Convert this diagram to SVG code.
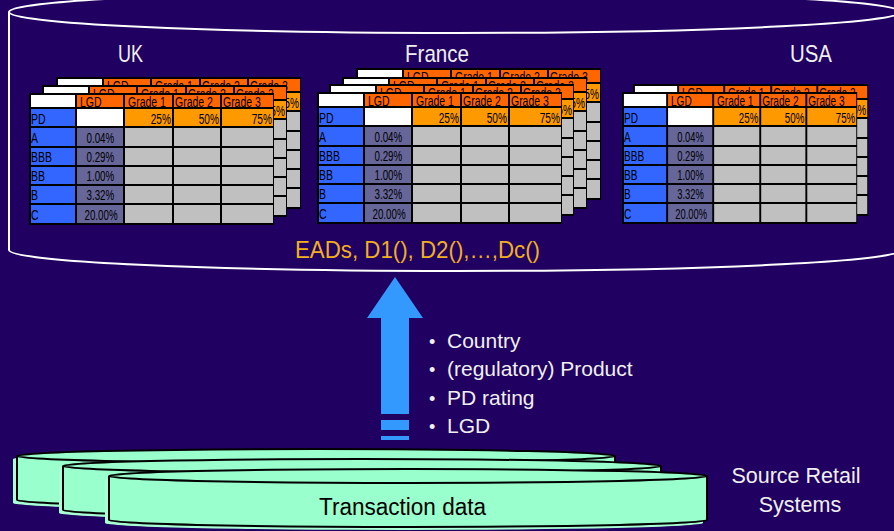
<svg xmlns="http://www.w3.org/2000/svg" width="894" height="531" viewBox="0 0 894 531">
<style>
.t{font-family:"Liberation Sans",Arial,sans-serif;font-size:15px;fill:#000}
.h{font-size:15px}
.v{font-size:14px}
.p{font-size:14.5px}
.m{text-anchor:middle}
.e{text-anchor:end}
.lbl{font-family:"Liberation Sans",Arial,sans-serif;fill:#f0f0f0}
.cyl{fill:#99ffcc;stroke:#000;stroke-width:2}
.sh{fill:#a8ffd4;stroke:none}
.bigc{fill:none;stroke:#fff;stroke-width:2}
</style>
<defs>
<g id="tbl">
 <rect width="245" height="132" fill="#000"/>
 <g fill="#fff"><rect x="2" y="2" width="44" height="12"/><rect x="48" y="16" width="46" height="17"/></g>
 <g fill="#ff6600"><rect x="48" y="2" width="46" height="12"/><rect x="96" y="2" width="47" height="12"/><rect x="145" y="2" width="46" height="12"/><rect x="193" y="2" width="51" height="12"/></g>
 <g fill="#ff9900"><rect x="96" y="16" width="47" height="17"/><rect x="145" y="16" width="46" height="17"/><rect x="193" y="16" width="51" height="17"/></g>
 <g fill="#3366ff"><rect x="2" y="16" width="44" height="17"/><rect x="2" y="35" width="44" height="18"/><rect x="2" y="55" width="44" height="17"/><rect x="2" y="74" width="44" height="17"/><rect x="2" y="93" width="44" height="17"/><rect x="2" y="112" width="44" height="18"/></g>
 <g fill="#666699"><rect x="48" y="35" width="46" height="18"/><rect x="48" y="55" width="46" height="17"/><rect x="48" y="74" width="46" height="17"/><rect x="48" y="93" width="46" height="17"/><rect x="48" y="112" width="46" height="18"/></g>
 <g fill="#c0c0c0">
  <rect x="96" y="35" width="47" height="18"/><rect x="145" y="35" width="46" height="18"/><rect x="193" y="35" width="51" height="18"/>
  <rect x="96" y="55" width="47" height="17"/><rect x="145" y="55" width="46" height="17"/><rect x="193" y="55" width="51" height="17"/>
  <rect x="96" y="74" width="47" height="17"/><rect x="145" y="74" width="46" height="17"/><rect x="193" y="74" width="51" height="17"/>
  <rect x="96" y="93" width="47" height="17"/><rect x="145" y="93" width="46" height="17"/><rect x="193" y="93" width="51" height="17"/>
  <rect x="96" y="112" width="47" height="18"/><rect x="145" y="112" width="46" height="18"/><rect x="193" y="112" width="51" height="18"/>
 </g>
 <g transform="scale(0.7 1)" class="t">
  <text class="h" x="72.9" y="13.5">LGD</text>
  <text class="h" x="141.4" y="13.5">Grade 1</text>
  <text class="h" x="208.6" y="13.5">Grade 2</text>
  <text class="h" x="277.1" y="13.5">Grade 3</text>
  <text x="2.9" y="31">PD</text>
  <text x="2.9" y="50.5">A</text>
  <text x="2.9" y="69.5">BBB</text>
  <text x="2.9" y="88.5">BB</text>
  <text x="2.9" y="107.5">B</text>
  <text x="2.9" y="127.5">C</text>
  <text class="e p" x="202.9" y="31">25%</text>
  <text class="e p" x="271.4" y="31">50%</text>
  <text class="e p" x="347.1" y="31">75%</text>
  <text class="m v" x="102" y="50">0.04%</text>
  <text class="m v" x="102" y="69">0.29%</text>
  <text class="m v" x="102" y="88">1.00%</text>
  <text class="m v" x="102" y="107">3.32%</text>
  <text class="m v" x="103" y="127">20.00%</text>
 </g>
</g>
<g id="disk">
 <path class="sh" transform="translate(-4 3)" d="M-299,0 L-299,44 A299,7 0 0 0 299,44 L299,0 A299,7 0 0 0 -299,0 Z"/>
 <path class="cyl" d="M-299,0 L-299,44 A299,7 0 0 0 299,44 L299,0"/>
 <ellipse class="cyl" cx="0" cy="0" rx="299" ry="7"/>
</g>
</defs>
<rect width="894" height="531" fill="#200060"/>

<g id="store">
 <ellipse class="bigc" cx="455" cy="12" rx="446" ry="21"/>
 <path class="bigc" d="M9,12 L9,250 A446,21 0 0 0 901,250 L901,12"/>
</g>

<g id="uk">
 <text class="lbl" x="118" y="62" font-size="24" textLength="25" lengthAdjust="spacingAndGlyphs">UK</text>
 <use href="#tbl" transform="translate(56 77)"/>
 <use href="#tbl" transform="translate(42 85)"/>
 <use href="#tbl" transform="translate(29 93)"/>
</g>
<g id="france">
 <text class="lbl" x="405" y="62" font-size="24" textLength="64" lengthAdjust="spacingAndGlyphs">France</text>
 <use href="#tbl" transform="translate(356 68)"/>
 <use href="#tbl" transform="translate(342 77)"/>
 <use href="#tbl" transform="translate(329 84)"/>
 <use href="#tbl" transform="translate(317 92)"/>
</g>
<g id="usa">
 <text class="lbl" x="790" y="62" font-size="24" textLength="42" lengthAdjust="spacingAndGlyphs">USA</text>
 <use href="#tbl" transform="translate(633 84) scale(0.96 1)"/>
 <use href="#tbl" transform="translate(622 92) scale(0.96 1)"/>
</g>
<text id="eads" x="295" y="258" font-family="'Liberation Sans',Arial,sans-serif" font-size="24" fill="#f0b020" textLength="245" lengthAdjust="spacingAndGlyphs">EADs, D1(), D2(),…,Dc()</text>

<g id="connectors">
 <polygon points="395,277 423,318 409,318 409,414 381,414 381,318 367,318" fill="#3399ff"/>
 <rect x="381" y="420" width="28" height="10" fill="#3399ff"/>
 <rect x="381" y="436" width="28" height="4" fill="#3399ff"/>
</g>

<g id="attrs" class="lbl" font-size="21">
 <text x="429" y="348" font-size="18">•</text><text x="447" y="348">Country</text>
 <text x="429" y="376" font-size="18">•</text><text x="447" y="376">(regulatory) Product</text>
 <text x="429" y="405" font-size="18">•</text><text x="447" y="405">PD rating</text>
 <text x="429" y="433" font-size="18">•</text><text x="447" y="433">LGD</text>
</g>

<g id="source">
 <use href="#disk" transform="translate(316 456)"/>
 <use href="#disk" transform="translate(362 466)"/>
 <use href="#disk" transform="translate(408 476)"/>
 <text x="319" y="515" font-family="'Liberation Sans',Arial,sans-serif" font-size="23" fill="#000" textLength="167" lengthAdjust="spacingAndGlyphs">Transaction data</text>
</g>
<g id="srclabel" class="lbl" font-size="21.5" text-anchor="middle">
 <text x="796" y="483">Source Retail</text>
 <text x="800" y="512">Systems</text>
</g>
</svg>
